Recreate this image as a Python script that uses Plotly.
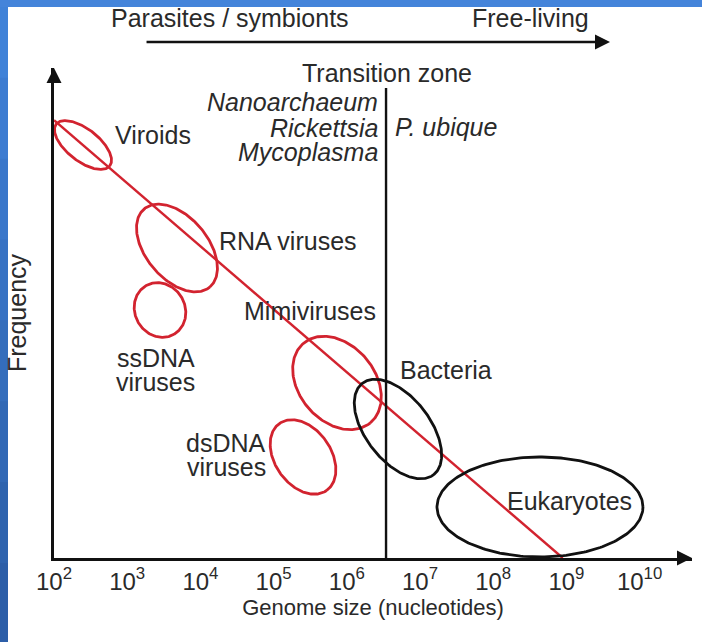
import numpy as np
import plotly.graph_objects as go

# ---------------- data ----------------
# x axis: log10(genome size in nucleotides)
tick_exponents = [2, 3, 4, 5, 6, 7, 8, 9, 10]
tick_labels = [f"10<sup>{e}</sup>" for e in tick_exponents]

# trend of frequency vs genome size (arbitrary frequency units)
trend_log_size = [2.0, 8.95]
trend_freq = [5.98, 0.0]

# transition zone (log10 genome size) and its top (frequency units)
transition_log_size = 6.536
transition_top = 6.42

groups = ["Viroids", "RNA viruses", "ssDNA viruses", "Mimiviruses",
          "dsDNA viruses", "Bacteria", "Eukaryotes"]
center_log_size = [2.396, 3.680, 3.448, 5.866, 5.402, 6.699, 8.639]
center_freq = [5.642, 4.235, 3.388, 2.391, 1.380, 1.762, 0.697]
semi_major = [0.464, 0.697, 0.383, 0.710, 0.560, 0.792, 1.407]
semi_minor = [0.219, 0.423, 0.342, 0.519, 0.383, 0.437, 0.683]
tilt_deg = [-38, -50, -60, -50, -55, -52, 0]
lifestyle = ["parasite", "parasite", "parasite", "parasite", "parasite",
             "free", "free"]

# ---------------- style ----------------
RED = "#d2232f"
INK = "#2a2a2a"
FONT = "Liberation Sans, Arial, Helvetica, sans-serif"
X_RANGE = [2.0, 10.7158]
Y_RANGE = [0.0, 6.694]

fig = go.Figure()

# trend line
fig.add_trace(go.Scatter(x=trend_log_size, y=trend_freq, mode="lines",
                         line=dict(color=RED, width=2.4),
                         hoverinfo="skip", showlegend=False))

# ellipses
t = np.linspace(0, 2 * np.pi, 240)
for name, cx, cy, a, b, th, life in zip(groups, center_log_size, center_freq,
                                        semi_major, semi_minor, tilt_deg, lifestyle):
    r = np.deg2rad(th)
    ex = cx + a * np.cos(r) * np.cos(t) - b * np.sin(r) * np.sin(t)
    ey = cy + a * np.sin(r) * np.cos(t) + b * np.cos(r) * np.sin(t)
    fig.add_trace(go.Scatter(x=ex, y=ey, mode="lines", name=name,
                             line=dict(color=RED if life == "parasite" else "#111111",
                                       width=2.8),
                             hoverinfo="name", showlegend=False))

# transition zone line
fig.add_trace(go.Scatter(x=[transition_log_size, transition_log_size],
                         y=[0, transition_top], mode="lines",
                         line=dict(color="#111111", width=2.4),
                         hoverinfo="skip", showlegend=False))

ann = []


def label(text, x, y, xanchor="center", italic=False, size=25, yref="y"):
    ann.append(dict(x=x, y=y, xref="x", yref=yref,
                    text=f"<i>{text}</i>" if italic else text,
                    showarrow=False, xanchor=xanchor, yanchor="middle",
                    font=dict(family=FONT, size=size, color=INK)))


label("Viroids", 2.806, 5.779, "left")
label("RNA viruses", 4.227, 4.331, "left")
label("ssDNA", 3.393, 2.732)
label("viruses", 3.393, 2.404)
label("Mimiviruses", 6.426, 3.374, "right")
label("dsDNA", 4.350, 1.571)
label("viruses", 4.350, 1.243)
label("Bacteria", 6.699, 2.568, "left")
label("Eukaryotes", 8.161, 0.779, "left")
label("Transition zone", 6.549, 6.626)
label("Nanoarchaeum", 6.454, 6.230, "right", True)
label("Rickettsia", 6.454, 5.874, "right", True)
label("Mycoplasma", 6.454, 5.546, "right", True)
label("P. ubique", 6.631, 5.888, "left", True)
# header labels live in the top margin -> paper coordinates
label("Parasites / symbionts", 4.404, 1.102, yref="paper")
label("Free-living", 8.516, 1.102, yref="paper")

# top arrow (parasites -> free-living)
ann.append(dict(x=9.596, y=1.053, xref="x", yref="paper", ax=-465, ay=0,
                axref="pixel", ayref="pixel", text="", showarrow=True,
                arrowhead=2, arrowsize=1.2, arrowwidth=2.5, arrowcolor="#111111"))
# axis arrowheads
ann.append(dict(x=X_RANGE[1], y=0, xref="x", yref="y", ax=-14, ay=0,
                text="", showarrow=True, arrowhead=2, arrowsize=1.2,
                arrowwidth=2.5, arrowcolor="#111111"))
ann.append(dict(x=2.0, y=Y_RANGE[1], xref="x", yref="y", ax=0, ay=14,
                text="", showarrow=True, arrowhead=2, arrowsize=1.2,
                arrowwidth=2.5, arrowcolor="#111111"))

# blue frame (left and top bands)
shapes = []
n = 8
c0 = np.array([0x40, 0x82, 0xd8])
c1 = np.array([0x2c, 0x5e, 0xa8])
y_top, y_bot = 1.145, -0.175
for i in range(n):
    f = i / (n - 1)
    c = (c0 * (1 - f) + c1 * f).astype(int)
    y_hi = y_top - (y_top - y_bot) * i / n
    y_lo = y_top - (y_top - y_bot) * (i + 1) / n
    shapes.append(dict(type="rect", xref="paper", yref="paper", layer="above",
                       x0=-0.09, x1=-0.0721, y0=y_lo - 0.002, y1=y_hi,
                       line=dict(width=0), fillcolor=f"rgb({c[0]},{c[1]},{c[2]})"))
shapes.append(dict(type="rect", xref="paper", yref="paper", layer="above",
                   x0=-0.09, x1=1.02, y0=1.1245, y1=y_top,
                   line=dict(width=0), fillcolor="#4484da"))

fig.update_layout(
    width=702, height=642,
    margin=dict(l=54, r=10, t=68, b=84),
    paper_bgcolor="white", plot_bgcolor="white",
    font=dict(family=FONT, color=INK),
    annotations=ann, shapes=shapes,
    xaxis=dict(range=X_RANGE, tickvals=tick_exponents, ticktext=tick_labels,
               showgrid=False, zeroline=False, showline=True,
               linecolor="#111111", linewidth=2.5,
               ticks="", ticklen=0,
               tickfont=dict(family=FONT, size=24, color=INK),
               title=dict(text="Genome size (nucleotides)", standoff=4,
                          font=dict(family=FONT, size=22, color=INK))),
    yaxis=dict(range=Y_RANGE, showgrid=False, zeroline=False, showline=True,
               linecolor="#111111", linewidth=2.5, showticklabels=False,
               ticks="",
               title=dict(text="Frequency", standoff=18,
                          font=dict(family=FONT, size=25, color=INK))),
)

fig.write_html("out.html", config={"displayModeBar": False},
               post_script="document.body.style.margin='0';")
